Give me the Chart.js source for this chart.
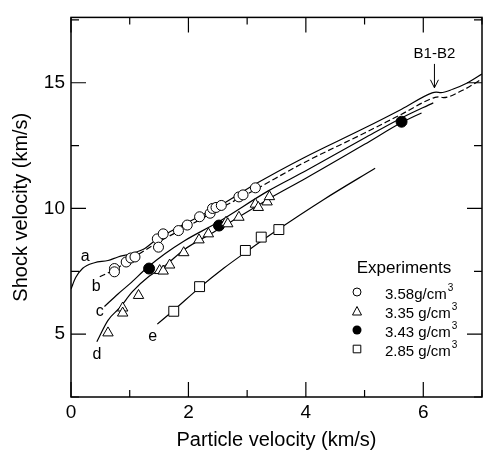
<!DOCTYPE html>
<html>
<head>
<title>Shock velocity vs particle velocity</title>
<script src="https://cdn.jsdelivr.net/npm/chart.js@4.4.1/dist/chart.umd.min.js"></script>
<style>
  html, body { margin: 0; padding: 0; overflow: hidden; background: #fff; }
  #wrap { width: 490px; height: 450px; }
</style>
</head>
<body>
<div id="wrap"><canvas id="myChart"></canvas></div>
<script>
// experiments (particle velocity, shock velocity in km/s)
var circX = [0.74, 0.74, 0.94, 1.02, 1.09, 1.47, 1.49, 1.57, 1.83, 1.98, 2.19, 2.37, 2.41, 2.47, 2.56, 2.86, 2.93, 3.14];
var circY = [7.61, 7.48, 7.87, 8.03, 8.07, 8.79, 8.46, 8.99, 9.12, 9.34, 9.67, 9.81, 10.0, 10.04, 10.12, 10.46, 10.54, 10.82];
var triX = [0.63, 0.88, 0.88, 1.15, 1.51, 1.57, 1.68, 1.92, 2.18, 2.34, 2.64, 2.67, 2.86, 3.14, 3.19, 3.34, 3.38];
var triY = [5.05, 6.04, 5.84, 6.54, 7.53, 7.51, 7.75, 8.24, 8.75, 8.99, 9.45, 9.39, 9.65, 10.17, 10.04, 10.26, 10.47];
var dotX = [1.33, 2.52, 5.63];
var dotY = [7.61, 9.32, 13.45];
var sqX = [1.75, 2.19, 2.97, 3.24, 3.54];
var sqY = [5.91, 6.89, 8.33, 8.86, 9.16];

// calculated curves a-e
var aX = [0, 0.08, 0.2, 0.4, 0.63, 0.8, 1.02, 1.25, 1.42, 1.6, 1.8, 2.2, 2.6, 3.14, 3.95, 5.0, 5.63, 6.15, 6.22, 6.3, 6.5, 6.73, 7.0];
var aY = [6.8, 7.25, 7.62, 7.84, 7.93, 8.07, 8.2, 8.4, 8.7, 8.95, 9.22, 9.7, 10.2, 10.97, 12.0, 13.2, 13.95, 14.6, 14.63, 14.61, 14.74, 14.97, 15.35];
var bX = [0.49, 0.74, 1.0, 1.5, 2.0, 2.5, 3.14, 3.95, 5.0, 5.63, 6.2, 6.27, 6.34, 6.67, 7.0];
var bY = [7.28, 7.57, 7.95, 8.68, 9.3, 9.95, 10.75, 11.8, 13.0, 13.75, 14.42, 14.44, 14.41, 14.7, 15.15];
var cX = [0.57, 0.8, 1.0, 1.3, 1.6, 1.92, 2.5, 3.36, 4.0, 5.0, 5.63, 6.17];
var cY = [6.1, 6.6, 7.0, 7.65, 8.2, 8.7, 9.45, 10.7, 11.5, 12.8, 13.6, 14.2];
var dX = [0.44, 0.63, 0.83, 1.05, 1.33, 1.6, 1.92, 2.5, 3.36, 4.0, 5.0, 5.63, 5.97];
var dY = [4.7, 5.55, 6.05, 6.7, 7.3, 7.72, 8.35, 9.15, 10.37, 11.2, 12.55, 13.42, 13.8];
var eX = [1.47, 1.75, 2.2, 2.6, 3.0, 3.5, 4.3, 5.18];
var eY = [5.4, 5.95, 6.87, 7.62, 8.3, 9.12, 10.35, 11.6];

var legendLabels = ['3.58g/cm', '3.35 g/cm', '3.43 g/cm', '2.85 g/cm'];

var FONT = "'Liberation Sans', Arial, sans-serif";

function pts(xs, ys) {
    return xs.map(function (x, i) { return { x: x, y: ys[i] }; });
}

function curve(xs, ys, dash) {
    return {
        data: pts(xs, ys),
        showLine: true,
        borderColor: '#000',
        borderWidth: 1.2,
        borderDash: dash || [],
        pointRadius: 0,
        cubicInterpolationMode: 'monotone',
        order: 2
    };
}

function marks(xs, ys, style, r, fill) {
    return {
        data: pts(xs, ys),
        showLine: false,
        pointStyle: style,
        pointRadius: r,
        pointBorderWidth: 1,
        pointBorderColor: '#000',
        pointBackgroundColor: fill,
        order: 1
    };
}

// frame, inward ticks, curve letters, B1-B2 arrow, legend
var overlay = {
    id: 'overlay',
    afterDatasetsDraw: function (chart) {
        var ctx = chart.ctx, a = chart.chartArea, x = chart.scales.x, y = chart.scales.y;
        ctx.save();
        ctx.strokeStyle = '#000';
        ctx.lineWidth = 1.5;
        ctx.strokeRect(a.left, a.top, a.right - a.left, a.bottom - a.top);

        ctx.lineWidth = 1.2;
        ctx.beginPath();
        x.ticks.forEach(function (t) {
            var px = x.getPixelForValue(t.value);
            var len = t.value % 2 === 0 ? 15 : 7;
            ctx.moveTo(px, a.bottom); ctx.lineTo(px, a.bottom - len);
            ctx.moveTo(px, a.top); ctx.lineTo(px, a.top + len);
        });
        y.ticks.forEach(function (t) {
            var py = y.getPixelForValue(t.value);
            var len = t.value % 5 === 0 ? 15 : 8;
            ctx.moveTo(a.left, py); ctx.lineTo(a.left + len, py);
            ctx.moveTo(a.right, py); ctx.lineTo(a.right - len, py);
        });
        ctx.stroke();

        ctx.fillStyle = '#000';
        ctx.font = '16px ' + FONT;
        ctx.textAlign = 'center';
        ctx.textBaseline = 'middle';
        [['a', 0.24, 8.07], ['b', 0.43, 6.89], ['c', 0.49, 5.9], ['d', 0.44, 4.17], ['e', 1.39, 4.92]].forEach(function (l) {
            ctx.fillText(l[0], x.getPixelForValue(l[1]), y.getPixelForValue(l[2]));
        });

        // B1-B2 marker
        var bx = x.getPixelForValue(6.19);
        ctx.font = '15px ' + FONT;
        ctx.fillText('B1-B2', bx, y.getPixelForValue(16.14));
        var top = y.getPixelForValue(15.75), tip = y.getPixelForValue(14.8);
        ctx.lineWidth = 1;
        ctx.beginPath();
        ctx.moveTo(bx, top); ctx.lineTo(bx, tip);
        ctx.moveTo(bx - 4, tip - 8); ctx.lineTo(bx, tip); ctx.lineTo(bx + 4, tip - 8);
        ctx.stroke();

        // legend
        ctx.font = '17px ' + FONT;
        ctx.fillText('Experiments', 404, 268);
        ctx.textAlign = 'left';
        ctx.textBaseline = 'alphabetic';
        var rows = [299, 318, 337, 356];
        var mx = 357;
        legendLabels.forEach(function (txt, i) {
            var cy = rows[i] - 7;
            ctx.lineWidth = 1;
            ctx.beginPath();
            if (i === 0) {
                ctx.arc(mx, cy, 4, 0, Math.PI * 2);
                ctx.stroke();
            } else if (i === 1) {
                ctx.moveTo(mx - 4.5, cy + 4); ctx.lineTo(mx + 4.5, cy + 4); ctx.lineTo(mx, cy - 4.5); ctx.closePath();
                ctx.stroke();
            } else if (i === 2) {
                ctx.arc(mx, cy, 4.5, 0, Math.PI * 2);
                ctx.fill();
            } else {
                ctx.rect(mx - 3.8, cy - 3.8, 7.6, 7.6);
                ctx.stroke();
            }
            ctx.font = '15px ' + FONT;
            ctx.fillText(txt, 385, rows[i]);
            var w = ctx.measureText(txt).width;
            ctx.font = '10px ' + FONT;
            ctx.fillText('3', 386 + w, rows[i] - 8);
        });
        ctx.restore();
    }
};

new Chart(document.getElementById('myChart'), {
    type: 'scatter',
    data: {
        datasets: [
            curve(aX, aY),
            curve(bX, bY, [6, 3]),
            curve(cX, cY),
            curve(dX, dY),
            curve(eX, eY),
            marks(circX, circY, 'circle', 5, '#fff'),
            marks(triX, triY, 'triangle', 6, '#fff'),
            marks(dotX, dotY, 'circle', 5.5, '#000'),
            marks(sqX, sqY, 'rect', 7, '#fff')
        ]
    },
    options: {
        responsive: true,
        maintainAspectRatio: false,
        animation: false,
        layout: { padding: { left: 0, right: 4, top: 13, bottom: 0 } },
        plugins: { legend: { display: false }, tooltip: { enabled: false } },
        scales: {
            x: {
                type: 'linear',
                min: 0,
                max: 7,
                grid: { display: false, drawTicks: false },
                border: { display: false },
                ticks: {
                    stepSize: 1,
                    padding: 4,
                    color: '#000',
                    font: { family: FONT, size: 19 },
                    callback: function (v) { return v % 2 === 0 ? v : ''; }
                },
                title: {
                    display: true,
                    text: 'Particle velocity (km/s)',
                    color: '#000',
                    font: { family: FONT, size: 20, lineHeight: 1 },
                    padding: { top: 0, bottom: 0 }
                },
                afterFit: function (s) { s.height = 53; }
            },
            y: {
                type: 'linear',
                min: 2.5,
                max: 17.6,
                grid: { display: false, drawTicks: false },
                border: { display: false },
                ticks: {
                    stepSize: 2.5,
                    includeBounds: false,
                    padding: 6,
                    color: '#000',
                    font: { family: FONT, size: 19 },
                    callback: function (v) { return v % 5 === 0 ? v : ''; }
                },
                title: {
                    display: true,
                    text: 'Shock velocity (km/s)',
                    color: '#000',
                    font: { family: FONT, size: 20, lineHeight: 1 },
                    padding: { top: 11, bottom: 0 }
                },
                afterFit: function (s) { s.width = 71; }
            }
        }
    },
    plugins: [overlay]
});
</script>
</body>
</html>
